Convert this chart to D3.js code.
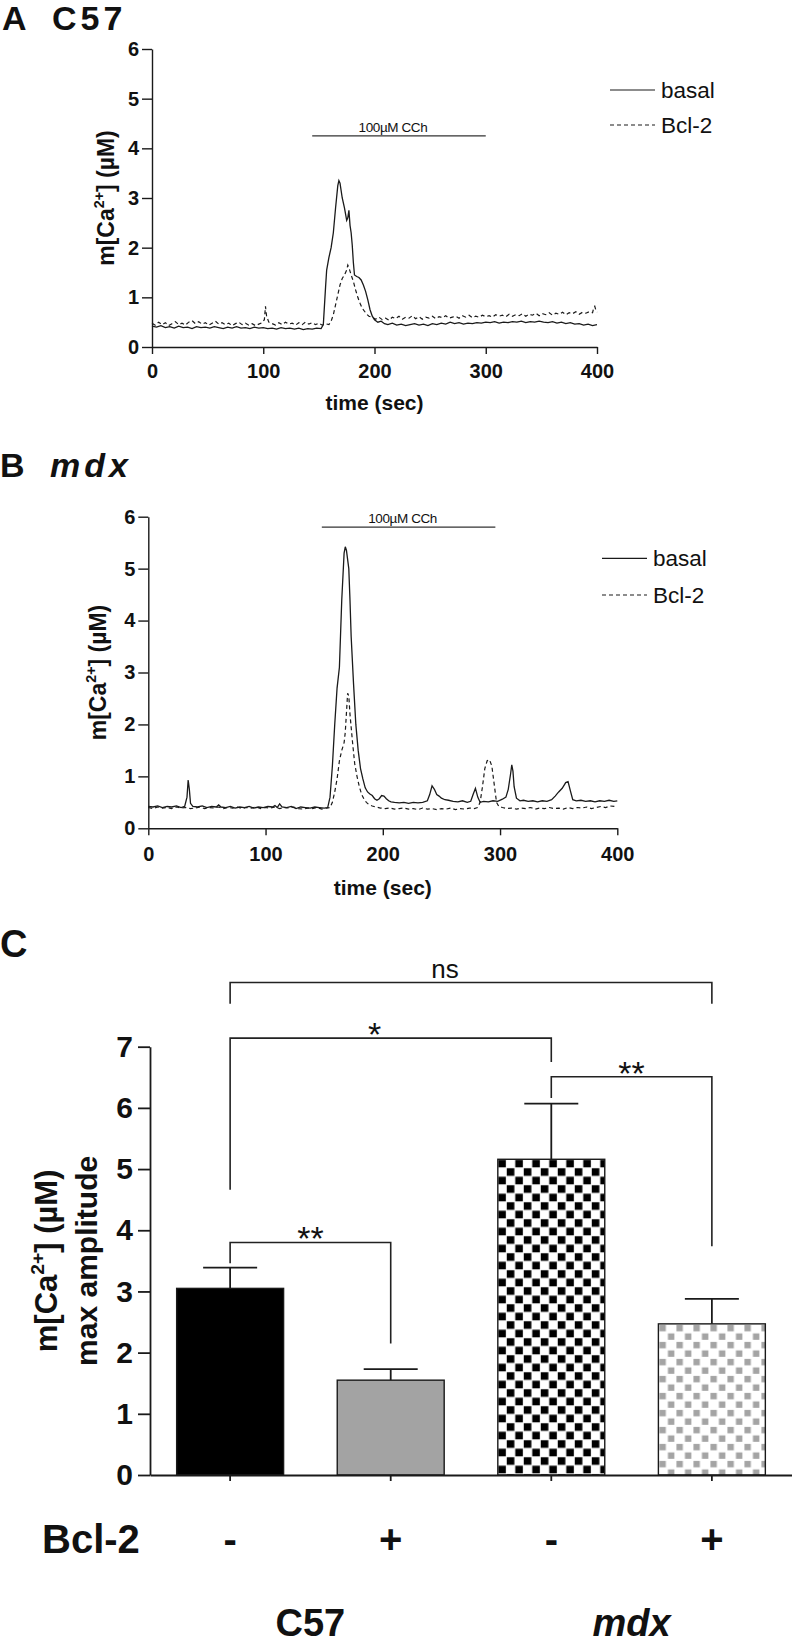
<!DOCTYPE html>
<html><head><meta charset="utf-8">
<script src="https://cdn.jsdelivr.net/npm/d3@7"></script>
<style>
body{margin:0;background:#fff}
svg{display:block}
text{font-family:"Liberation Sans",Arial,Helvetica,sans-serif;fill:#111}
</style>
</head><body>
<svg id="c" width="792" height="1644"></svg>
<script>
// ---------------- DATA ----------------
const timeTicks = [0, 100, 200, 300, 400];
const yTicksTrace = [0, 1, 2, 3, 4, 5, 6];
const legendLabels = ["basal", "Bcl-2"];
const cchLabel = "100µM CCh";

// Panel A (C57)
const aBasalT = [0,4,8,12,16,20,24,28,32,36,40,44,48,52,56,60,64,68,72,76,80,84,88,92,96,100,104,108,112,116,120,124,128,132,136,140,144,148,152,154,156,157,159,161,163,165,167,168,169,171,173,175,176,177,178,179,180,181,182,184,186,188,190,192,194,196,198,200,203,206,209,212,216,220,224,228,232,236,240,244,248,252,256,260,264,268,272,276,280,284,288,292,296,300,304,308,312,316,320,324,328,332,336,340,344,348,352,356,360,364,368,372,376,380,384,388,392,396,400];
const aBasalV = [0.42,0.40,0.43,0.39,0.41,0.38,0.42,0.39,0.40,0.37,0.41,0.39,0.40,0.38,0.41,0.39,0.37,0.40,0.38,0.41,0.38,0.39,0.37,0.40,0.38,0.39,0.37,0.38,0.36,0.39,0.37,0.38,0.36,0.38,0.35,0.37,0.36,0.38,0.37,0.45,1.2,1.55,1.8,2.0,2.3,2.8,3.25,3.35,3.3,3.0,2.8,2.55,2.6,2.75,2.45,2.3,2.05,1.7,1.45,1.42,1.4,1.35,1.25,1.12,0.95,0.75,0.62,0.55,0.5,0.52,0.47,0.45,0.48,0.44,0.46,0.43,0.45,0.47,0.44,0.46,0.43,0.47,0.45,0.48,0.46,0.50,0.47,0.49,0.46,0.48,0.47,0.49,0.48,0.50,0.49,0.51,0.48,0.50,0.49,0.51,0.50,0.52,0.49,0.51,0.50,0.52,0.50,0.49,0.51,0.48,0.50,0.47,0.49,0.46,0.47,0.44,0.46,0.43,0.45];
const aBcl2T = [0,3,6,9,12,15,18,21,24,27,30,33,36,39,42,45,48,51,54,57,60,63,66,69,72,75,78,81,84,87,90,93,96,99,101,102,103,105,108,111,114,117,120,123,126,129,132,135,138,141,144,147,150,153,156,159,161,163,165,167,169,171,173,175,176,177,179,181,183,185,187,189,191,193,195,198,201,204,207,210,213,216,219,222,225,228,231,234,237,240,243,246,249,252,255,258,261,264,267,270,273,276,279,282,285,288,291,294,297,300,303,306,309,312,315,318,321,324,327,330,333,336,339,342,345,348,351,354,357,360,363,366,369,372,375,378,381,384,387,390,393,396,397,398,399,400];
const aBcl2V = [0.48,0.44,0.50,0.45,0.49,0.43,0.47,0.51,0.45,0.48,0.44,0.50,0.53,0.47,0.51,0.46,0.49,0.44,0.48,0.52,0.46,0.49,0.45,0.48,0.43,0.47,0.50,0.45,0.48,0.44,0.47,0.43,0.46,0.49,0.55,0.82,0.62,0.50,0.47,0.44,0.49,0.45,0.50,0.46,0.48,0.44,0.49,0.45,0.50,0.46,0.49,0.45,0.48,0.44,0.47,0.45,0.52,0.65,0.85,1.05,1.25,1.38,1.45,1.55,1.65,1.6,1.45,1.32,1.15,1.0,0.88,0.78,0.72,0.66,0.62,0.6,0.56,0.6,0.55,0.58,0.54,0.6,0.57,0.62,0.56,0.6,0.58,0.63,0.57,0.61,0.56,0.6,0.58,0.62,0.57,0.61,0.59,0.63,0.58,0.6,0.62,0.58,0.63,0.6,0.64,0.59,0.62,0.6,0.64,0.61,0.63,0.6,0.65,0.62,0.64,0.61,0.66,0.62,0.65,0.63,0.67,0.62,0.66,0.64,0.68,0.63,0.67,0.65,0.69,0.64,0.68,0.66,0.7,0.65,0.69,0.67,0.71,0.66,0.7,0.68,0.71,0.69,0.78,0.82,0.74,0.7];
const aCch = [144, 300, 4.25];

// Panel B (mdx)
const bBasalT = [0,4,8,12,16,20,24,28,31,33,34,35,36,38,42,46,50,54,58,60,62,66,70,74,78,82,86,90,94,98,102,106,108,110,112,114,118,122,126,130,134,138,142,146,150,153,155,157,159,161,163,165,167,168,169,171,172,173,175,177,179,181,183,185,187,189,191,193,195,197,199,201,203,205,207,210,214,218,222,226,230,234,238,240,242,244,246,248,250,253,256,260,264,268,272,275,277,279,281,283,286,290,294,298,302,305,307,309,310,311,312,314,317,320,324,328,332,336,340,344,347,350,353,356,358,360,362,365,369,373,377,381,385,389,393,397,400];
const bBasalV = [0.42,0.41,0.43,0.40,0.42,0.41,0.43,0.40,0.42,0.6,0.93,0.75,0.48,0.42,0.41,0.43,0.40,0.42,0.41,0.45,0.41,0.40,0.42,0.39,0.41,0.40,0.42,0.39,0.41,0.40,0.42,0.41,0.44,0.40,0.47,0.41,0.40,0.42,0.38,0.41,0.40,0.39,0.41,0.40,0.39,0.40,0.6,1.2,2.0,2.7,3.1,4.4,5.3,5.42,5.35,5.0,4.4,3.7,2.8,2.0,1.5,1.15,0.95,0.78,0.7,0.66,0.63,0.57,0.54,0.57,0.63,0.62,0.57,0.53,0.51,0.5,0.49,0.5,0.48,0.5,0.49,0.5,0.53,0.65,0.82,0.75,0.65,0.62,0.58,0.55,0.54,0.52,0.51,0.53,0.5,0.52,0.65,0.77,0.6,0.5,0.52,0.51,0.53,0.52,0.56,0.6,0.75,1.05,1.22,1.1,0.8,0.58,0.53,0.54,0.52,0.53,0.51,0.53,0.52,0.55,0.62,0.7,0.77,0.88,0.9,0.72,0.55,0.53,0.54,0.52,0.53,0.51,0.53,0.52,0.54,0.52,0.53];
const bBcl2T = [0,4,8,12,16,20,24,28,32,36,40,44,48,52,56,60,64,68,72,76,80,84,88,92,96,100,104,108,112,116,120,124,128,132,136,140,144,148,152,155,157,159,161,163,165,167,168,170,171,172,174,176,178,180,182,184,186,188,191,194,198,202,206,210,214,218,222,226,230,234,238,242,246,250,254,258,262,266,270,274,278,281,283,285,287,289,291,293,295,297,299,302,306,310,314,318,322,326,330,334,338,342,346,350,354,358,362,366,370,374,378,382,386,390,394,398,400];
const bBcl2V = [0.40,0.38,0.41,0.39,0.40,0.38,0.41,0.39,0.40,0.38,0.39,0.41,0.38,0.40,0.39,0.41,0.38,0.40,0.39,0.41,0.38,0.40,0.39,0.41,0.38,0.40,0.39,0.41,0.38,0.40,0.39,0.41,0.38,0.37,0.39,0.38,0.40,0.37,0.39,0.40,0.5,0.7,0.95,1.3,1.5,1.65,1.85,2.6,2.55,2.2,1.7,1.25,1.0,0.8,0.65,0.56,0.5,0.46,0.43,0.41,0.39,0.38,0.39,0.37,0.38,0.39,0.37,0.38,0.36,0.39,0.37,0.38,0.36,0.38,0.37,0.39,0.36,0.38,0.37,0.39,0.38,0.40,0.5,0.8,1.15,1.3,1.32,1.2,0.85,0.5,0.42,0.40,0.38,0.39,0.37,0.39,0.38,0.40,0.37,0.39,0.38,0.40,0.38,0.39,0.37,0.40,0.38,0.40,0.39,0.41,0.38,0.40,0.42,0.40,0.43,0.42,0.43];
const bCch = [148, 296, 5.8];

// Panel C (max amplitude)
const yTicksBar = [0, 1, 2, 3, 4, 5, 6, 7];
const barGroups = ["C57 basal", "C57 Bcl-2", "mdx basal", "mdx Bcl-2"];
const bcl2Signs = ["-", "+", "-", "+"];
const strainLabels = ["C57", "mdx"];
const meanAmp = [3.05, 1.55, 5.16, 2.47];
const semAmp = [0.34, 0.18, 0.91, 0.41];
const sigLabels = ["ns", "*", "**", "**"];
const sigFrom = [0, 0, 0, 2];
const sigTo = [3, 2, 1, 3];
const sigLevel = [8.05, 7.14, 3.80, 6.51];
const sigLegFrom = [7.70, 4.66, 3.46, 6.16];
const sigLegTo = [7.70, 6.75, 2.15, 3.74];

// ---------------- DRAW ----------------
const svg = d3.select("#c");
const INK = "#1a1a1a";
const intFmt = d3.format("d");

function caTitle(sel, fs) {
  sel.append("tspan").text("m[Ca");
  sel.append("tspan").attr("font-size", fs * 0.62).attr("dy", -fs * 0.42).text("2+");
  sel.append("tspan").attr("dy", fs * 0.42).text("] (µM)");
}

function styleAxis(g, fs, sw) {
  g.attr("font-size", null).attr("font-family", null);
  g.selectAll("path.domain").attr("stroke", INK).attr("stroke-width", sw);
  g.selectAll(".tick line").attr("stroke", INK).attr("stroke-width", sw);
  g.selectAll(".tick text").attr("font-size", fs).attr("font-weight", "bold").attr("fill", INK);
}

function tracePanel(o) {
  const x = d3.scaleLinear().domain([0, 400]).range(o.xr);
  const y = d3.scaleLinear().domain([0, 6]).range(o.yr);
  const g = svg.append("g");

  const ya = g.append("g").attr("transform", `translate(${o.xr[0]},0)`)
    .call(d3.axisLeft(y).tickValues(yTicksTrace).tickFormat(intFmt).tickSize(10).tickSizeOuter(0).tickPadding(3));
  styleAxis(ya, 20, 1.4);
  const xa = g.append("g").attr("transform", `translate(0,${o.yr[0]})`)
    .call(d3.axisBottom(x).tickValues(timeTicks).tickFormat(intFmt).tickSize(7).tickSizeOuter(0).tickPadding(o.xpad));
  styleAxis(xa, 20, 1.4);

  const line = d3.line().x(d => x(d[0])).y(d => y(d[1]));
  const basal = o.bt.map((t, i) => [t, o.bv[i]]);
  const bcl = o.ct.map((t, i) => [t, o.cv[i]]);
  g.append("path").datum(bcl).attr("d", line).attr("fill", "none")
    .attr("stroke", INK).attr("stroke-width", 1.2).attr("stroke-dasharray", "4,3");
  g.append("path").datum(basal).attr("d", line).attr("fill", "none")
    .attr("stroke", INK).attr("stroke-width", 1.3);

  // CCh bar
  g.append("line").attr("x1", x(o.cch[0])).attr("x2", x(o.cch[1]))
    .attr("y1", y(o.cch[2])).attr("y2", y(o.cch[2])).attr("stroke", "#333").attr("stroke-width", 1.4);
  g.append("text").attr("x", (x(o.cch[0]) + x(o.cch[1])) / 2 - 6).attr("y", y(o.cch[2]) - 4)
    .attr("text-anchor", "middle").attr("font-size", 13.5).attr("letter-spacing", -0.4).attr("fill", "#333").text(cchLabel);

  // legend
  const lg = g.append("g");
  legendLabels.forEach((lab, i) => {
    const ly = o.leg[1] + i * o.legGap;
    lg.append("line").attr("x1", o.leg[0]).attr("x2", o.leg[0] + 45).attr("y1", ly).attr("y2", ly)
      .attr("stroke", INK).attr("stroke-width", 1.2).attr("stroke-dasharray", i ? "4,3" : null);
    lg.append("text").attr("x", o.leg[0] + 51).attr("y", ly + 8).attr("font-size", 22.5).attr("fill", INK).text(lab);
  });

  // axis titles
  g.append("text").attr("x", (o.xr[0] + o.xr[1]) / 2).attr("y", o.xtY).attr("text-anchor", "middle")
    .attr("font-size", 21).attr("font-weight", "bold").text("time (sec)");
  const yt = g.append("text").attr("transform", `translate(${o.ytX},${(o.yr[0] + o.yr[1]) / 2}) rotate(-90)`)
    .attr("text-anchor", "middle").attr("font-size", 23).attr("font-weight", "bold");
  caTitle(yt, 23);

  // panel title
  const tt = g.append("text").attr("x", o.title[0]).attr("y", o.title[1]).attr("font-size", 34).attr("font-weight", "bold");
  tt.append("tspan").text(o.letter);
  tt.append("tspan").attr("x", o.title[0] + 50).attr("letter-spacing", 4)
    .attr("font-style", o.italic ? "italic" : null).text(o.name);
}

tracePanel({ xr: [152, 597], yr: [347, 49], xpad: 10, bt: aBasalT, bv: aBasalV, ct: aBcl2T, cv: aBcl2V,
  cch: aCch, leg: [610, 90], legGap: 35, xtY: 410, ytX: 114, title: [2, 30], letter: "A", name: "C57", italic: false });
tracePanel({ xr: [148.3, 617.3], yr: [828.3, 516.7], xpad: 12, bt: bBasalT, bv: bBasalV, ct: bBcl2T, cv: bBcl2V,
  cch: bCch, leg: [602, 558.3], legGap: 36.7, xtY: 895, ytX: 106, title: [0, 477], letter: "B", name: "mdx", italic: true });

// ---------------- Panel C ----------------
const gc = svg.append("g");
const xb = d3.scaleBand().domain(barGroups).range([150, 792]).paddingInner(0.334).paddingOuter(0.166);
const yb = d3.scaleLinear().domain([0, 7]).range([1475, 1046.7]);
const cx = i => xb(barGroups[i]) + xb.bandwidth() / 2;

const defs = svg.append("defs");
const cell = 8.5;
function checker(id, color, sq, i) {
  const p = defs.append("pattern").attr("id", id).attr("patternUnits", "userSpaceOnUse")
    .attr("width", cell * 2).attr("height", cell * 2)
    .attr("x", xb(barGroups[i])).attr("y", yb(meanAmp[i]));
  p.append("rect").attr("width", cell * 2).attr("height", cell * 2).attr("fill", "#fff");
  const off = (cell - sq) / 2;
  p.append("rect").attr("x", off).attr("y", off).attr("width", sq).attr("height", sq).attr("fill", color);
  p.append("rect").attr("x", cell + off).attr("y", cell + off).attr("width", sq).attr("height", sq).attr("fill", color);
}
checker("chkBlack", "#000", 7.6, 2);
checker("chkGrey", "#a4a4a4", 6.4, 3);
const barFill = ["#000", "#a3a3a3", "url(#chkBlack)", "url(#chkGrey)"];

// error bars (behind bars)
gc.selectAll(".err").data(meanAmp).join("g").each(function (d, i) {
  const s = d3.select(this);
  s.append("line").attr("x1", cx(i)).attr("x2", cx(i)).attr("y1", yb(d)).attr("y2", yb(d + semAmp[i]))
    .attr("stroke", INK).attr("stroke-width", 1.8);
  s.append("line").attr("x1", cx(i) - 27).attr("x2", cx(i) + 27).attr("y1", yb(d + semAmp[i])).attr("y2", yb(d + semAmp[i]))
    .attr("stroke", INK).attr("stroke-width", 1.8);
});

gc.selectAll(".bar").data(meanAmp).join("rect")
  .attr("x", (d, i) => xb(barGroups[i]))
  .attr("y", d => yb(d))
  .attr("width", xb.bandwidth())
  .attr("height", d => yb(0) - yb(d))
  .attr("fill", (d, i) => barFill[i])
  .attr("stroke", INK).attr("stroke-width", 1.4);

const yaC = gc.append("g").attr("transform", "translate(150,0)")
  .call(d3.axisLeft(yb).tickValues(yTicksBar).tickFormat(intFmt).tickSize(12).tickSizeOuter(0).tickPadding(5));
styleAxis(yaC, 30, 1.8);
const xaC = gc.append("g").attr("transform", "translate(0,1475)")
  .call(d3.axisBottom(xb).tickSize(6).tickSizeOuter(0).tickFormat(""));
styleAxis(xaC, 30, 1.8);

// significance brackets
const sigDx = [-26, -16, 0, 0];
sigLabels.forEach((lab, k) => {
  const x1 = cx(sigFrom[k]), x2 = cx(sigTo[k]), yl = yb(sigLevel[k]);
  gc.append("path")
    .attr("d", `M${x1},${yb(sigLegFrom[k])}V${yl}H${x2}V${yb(sigLegTo[k])}`)
    .attr("fill", "none").attr("stroke", "#222").attr("stroke-width", 1.6);
  const isStar = lab.indexOf("*") >= 0;
  gc.append("text").attr("x", (x1 + x2) / 2 + sigDx[k]).attr("y", isStar ? yl + 8 : yl - 4)
    .attr("text-anchor", "middle").attr("font-size", isStar ? 34 : 26).text(lab);
});

// category labels
gc.append("text").attr("x", 42).attr("y", 1553).attr("font-size", 40).attr("font-weight", "bold").text("Bcl-2");
bcl2Signs.forEach((s, i) => {
  gc.append("text").attr("x", cx(i)).attr("y", 1553).attr("text-anchor", "middle")
    .attr("font-size", 40).attr("font-weight", "bold").text(s);
});
strainLabels.forEach((s, k) => {
  gc.append("text").attr("x", (cx(2 * k) + cx(2 * k + 1)) / 2).attr("y", 1636).attr("text-anchor", "middle")
    .attr("font-size", 38).attr("font-weight", "bold").attr("font-style", k ? "italic" : null).text(s);
});

// y title (two lines)
const ytc = gc.append("text").attr("transform", `translate(57,${(yb(0) + yb(7)) / 2}) rotate(-90)`)
  .attr("text-anchor", "middle").attr("font-size", 31).attr("font-weight", "bold");
caTitle(ytc, 31);
gc.append("text").attr("transform", `translate(97,${(yb(0) + yb(7)) / 2}) rotate(-90)`)
  .attr("text-anchor", "middle").attr("font-size", 30).attr("font-weight", "bold").text("max amplitude");

// panel letter
gc.append("text").attr("x", 0).attr("y", 957).attr("font-size", 38).attr("font-weight", "bold").text("C");
</script>
</body></html>
